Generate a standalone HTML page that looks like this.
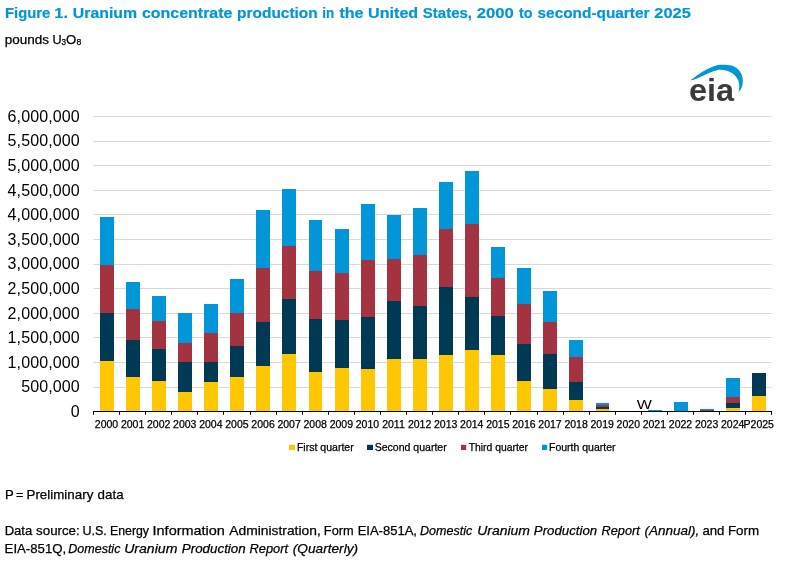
<!DOCTYPE html>
<html lang="en"><head><meta charset="utf-8"><title>Figure 1. Uranium concentrate production</title>
<style>
html,body{margin:0;padding:0;background:#fff}
body{width:803px;height:563px;overflow:hidden;position:relative;font-family:"Liberation Sans",sans-serif}
svg{position:absolute;left:0;top:0;display:block}
text{font-family:"Liberation Sans",sans-serif}
</style></head><body>
<svg width="803" height="563" viewBox="0 0 803 563">
<rect width="803" height="563" fill="#fff"/>
<text y="17.7" font-size="15.0" fill="#0096D7" stroke="#0096D7" stroke-width="0.2" font-weight="bold"><tspan x="5.01" textLength="45.30" lengthAdjust="spacingAndGlyphs">Figure</tspan> <tspan x="54.37" textLength="13.66" lengthAdjust="spacingAndGlyphs">1.</tspan> <tspan x="72.85" textLength="64.23" lengthAdjust="spacingAndGlyphs">Uranium</tspan> <tspan x="141.98" textLength="90.47" lengthAdjust="spacingAndGlyphs">concentrate</tspan> <tspan x="237.08" textLength="80.68" lengthAdjust="spacingAndGlyphs">production</tspan> <tspan x="322.16" textLength="11.98" lengthAdjust="spacingAndGlyphs">in</tspan> <tspan x="339.40" textLength="24.04" lengthAdjust="spacingAndGlyphs">the</tspan> <tspan x="368.13" textLength="50.03" lengthAdjust="spacingAndGlyphs">United</tspan> <tspan x="422.87" textLength="49.13" lengthAdjust="spacingAndGlyphs">States,</tspan> <tspan x="476.82" textLength="37.06" lengthAdjust="spacingAndGlyphs">2000</tspan> <tspan x="518.92" textLength="13.54" lengthAdjust="spacingAndGlyphs">to</tspan> <tspan x="537.56" textLength="111.97" lengthAdjust="spacingAndGlyphs">second-quarter</tspan> <tspan x="654.33" textLength="36.42" lengthAdjust="spacingAndGlyphs">2025</tspan></text>
<text y="44.3" font-size="13.2" fill="#000" stroke="#000" stroke-width="0.25"><tspan x="4.83" textLength="44.26" lengthAdjust="spacingAndGlyphs">pounds</tspan> <tspan x="52.52" y="44.3" font-size="13.2" textLength="9.16" lengthAdjust="spacingAndGlyphs">U</tspan><tspan x="61.59" y="45.0" font-size="9.2" textLength="4.57" lengthAdjust="spacingAndGlyphs">3</tspan><tspan x="65.98" y="44.3" font-size="13.2" textLength="10.26" lengthAdjust="spacingAndGlyphs">O</tspan><tspan x="76.42" y="45.0" font-size="9.2" textLength="4.86" lengthAdjust="spacingAndGlyphs">8</tspan></text>
<g stroke="#D9D9D9" stroke-width="1" fill="none">
<line x1="93.5" x2="771.6" y1="387.5" y2="387.5"/>
<line x1="93.5" x2="771.6" y1="362.5" y2="362.5"/>
<line x1="93.5" x2="771.6" y1="337.5" y2="337.5"/>
<line x1="93.5" x2="771.6" y1="313.5" y2="313.5"/>
<line x1="93.5" x2="771.6" y1="288.5" y2="288.5"/>
<line x1="93.5" x2="771.6" y1="264.5" y2="264.5"/>
<line x1="93.5" x2="771.6" y1="239.5" y2="239.5"/>
<line x1="93.5" x2="771.6" y1="214.5" y2="214.5"/>
<line x1="93.5" x2="771.6" y1="190.5" y2="190.5"/>
<line x1="93.5" x2="771.6" y1="165.5" y2="165.5"/>
<line x1="93.5" x2="771.6" y1="141.5" y2="141.5"/>
<line x1="93.5" x2="771.6" y1="116.5" y2="116.5"/>
</g>
<g font-size="16" fill="#000" text-anchor="end" letter-spacing="0.1">
<text x="79.7" y="417.2">0</text>
<text x="79.7" y="392.2">500,000</text>
<text x="79.7" y="368.2">1,000,000</text>
<text x="79.7" y="343.2">1,500,000</text>
<text x="79.7" y="319.2">2,000,000</text>
<text x="79.7" y="294.2">2,500,000</text>
<text x="79.7" y="269.2">3,000,000</text>
<text x="79.7" y="245.2">3,500,000</text>
<text x="79.7" y="220.2">4,000,000</text>
<text x="79.7" y="196.2">4,500,000</text>
<text x="79.7" y="171.2">5,000,000</text>
<text x="79.7" y="146.2">5,500,000</text>
<text x="79.7" y="122.2">6,000,000</text>
</g>
<g shape-rendering="crispEdges">
<rect x="100" y="361" width="14" height="50" fill="#FFC702"/>
<rect x="100" y="313" width="14" height="48" fill="#003953"/>
<rect x="100" y="265" width="14" height="48" fill="#A33340"/>
<rect x="100" y="217" width="14" height="48" fill="#0096D7"/>
<rect x="126" y="377" width="14" height="34" fill="#FFC702"/>
<rect x="126" y="340" width="14" height="37" fill="#003953"/>
<rect x="126" y="309" width="14" height="31" fill="#A33340"/>
<rect x="126" y="282" width="14" height="27" fill="#0096D7"/>
<rect x="152" y="381" width="14" height="30" fill="#FFC702"/>
<rect x="152" y="349" width="14" height="32" fill="#003953"/>
<rect x="152" y="321" width="14" height="28" fill="#A33340"/>
<rect x="152" y="296" width="14" height="25" fill="#0096D7"/>
<rect x="178" y="392" width="14" height="19" fill="#FFC702"/>
<rect x="178" y="362" width="14" height="30" fill="#003953"/>
<rect x="178" y="343" width="14" height="19" fill="#A33340"/>
<rect x="178" y="313" width="14" height="30" fill="#0096D7"/>
<rect x="204" y="382" width="14" height="29" fill="#FFC702"/>
<rect x="204" y="362" width="14" height="20" fill="#003953"/>
<rect x="204" y="333" width="14" height="29" fill="#A33340"/>
<rect x="204" y="304" width="14" height="29" fill="#0096D7"/>
<rect x="230" y="377" width="14" height="34" fill="#FFC702"/>
<rect x="230" y="346" width="14" height="31" fill="#003953"/>
<rect x="230" y="313" width="14" height="33" fill="#A33340"/>
<rect x="230" y="279" width="14" height="34" fill="#0096D7"/>
<rect x="256" y="366" width="14" height="45" fill="#FFC702"/>
<rect x="256" y="322" width="14" height="44" fill="#003953"/>
<rect x="256" y="268" width="14" height="54" fill="#A33340"/>
<rect x="256" y="210" width="14" height="58" fill="#0096D7"/>
<rect x="282" y="354" width="14" height="57" fill="#FFC702"/>
<rect x="282" y="299" width="14" height="55" fill="#003953"/>
<rect x="282" y="246" width="14" height="53" fill="#A33340"/>
<rect x="282" y="189" width="14" height="57" fill="#0096D7"/>
<rect x="309" y="372" width="13" height="39" fill="#FFC702"/>
<rect x="309" y="319" width="13" height="53" fill="#003953"/>
<rect x="309" y="271" width="13" height="48" fill="#A33340"/>
<rect x="309" y="220" width="13" height="51" fill="#0096D7"/>
<rect x="335" y="368" width="14" height="43" fill="#FFC702"/>
<rect x="335" y="320" width="14" height="48" fill="#003953"/>
<rect x="335" y="273" width="14" height="47" fill="#A33340"/>
<rect x="335" y="229" width="14" height="44" fill="#0096D7"/>
<rect x="361" y="369" width="14" height="42" fill="#FFC702"/>
<rect x="361" y="317" width="14" height="52" fill="#003953"/>
<rect x="361" y="260" width="14" height="57" fill="#A33340"/>
<rect x="361" y="204" width="14" height="56" fill="#0096D7"/>
<rect x="387" y="359" width="14" height="52" fill="#FFC702"/>
<rect x="387" y="301" width="14" height="58" fill="#003953"/>
<rect x="387" y="259" width="14" height="42" fill="#A33340"/>
<rect x="387" y="215" width="14" height="44" fill="#0096D7"/>
<rect x="413" y="359" width="14" height="52" fill="#FFC702"/>
<rect x="413" y="306" width="14" height="53" fill="#003953"/>
<rect x="413" y="255" width="14" height="51" fill="#A33340"/>
<rect x="413" y="208" width="14" height="47" fill="#0096D7"/>
<rect x="439" y="355" width="14" height="56" fill="#FFC702"/>
<rect x="439" y="287" width="14" height="68" fill="#003953"/>
<rect x="439" y="229" width="14" height="58" fill="#A33340"/>
<rect x="439" y="182" width="14" height="47" fill="#0096D7"/>
<rect x="465" y="350" width="14" height="61" fill="#FFC702"/>
<rect x="465" y="297" width="14" height="53" fill="#003953"/>
<rect x="465" y="224" width="14" height="73" fill="#A33340"/>
<rect x="465" y="171" width="14" height="53" fill="#0096D7"/>
<rect x="491" y="355" width="14" height="56" fill="#FFC702"/>
<rect x="491" y="316" width="14" height="39" fill="#003953"/>
<rect x="491" y="278" width="14" height="38" fill="#A33340"/>
<rect x="491" y="247" width="14" height="31" fill="#0096D7"/>
<rect x="517" y="381" width="14" height="30" fill="#FFC702"/>
<rect x="517" y="344" width="14" height="37" fill="#003953"/>
<rect x="517" y="304" width="14" height="40" fill="#A33340"/>
<rect x="517" y="268" width="14" height="36" fill="#0096D7"/>
<rect x="543" y="389" width="14" height="22" fill="#FFC702"/>
<rect x="543" y="354" width="14" height="35" fill="#003953"/>
<rect x="543" y="322" width="14" height="32" fill="#A33340"/>
<rect x="543" y="291" width="14" height="31" fill="#0096D7"/>
<rect x="569" y="400" width="14" height="11" fill="#FFC702"/>
<rect x="569" y="382" width="14" height="18" fill="#003953"/>
<rect x="569" y="357" width="14" height="25" fill="#A33340"/>
<rect x="569" y="340" width="14" height="17" fill="#0096D7"/>
<rect x="596" y="409" width="13" height="2" fill="#FFC702"/>
<rect x="596" y="407" width="13" height="2" fill="#003953"/>
<rect x="596" y="405" width="13" height="2" fill="#A33340"/>
<rect x="596" y="403" width="13" height="2" fill="#0096D7"/>
<rect x="648" y="410" width="14" height="1" fill="#0096D7"/>
<rect x="674" y="402" width="14" height="9" fill="#0096D7"/>
<rect x="700" y="410" width="14" height="1" fill="#A33340"/>
<rect x="700" y="409" width="14" height="1" fill="#0096D7"/>
<rect x="726" y="408" width="14" height="3" fill="#FFC702"/>
<rect x="726" y="403" width="14" height="5" fill="#003953"/>
<rect x="726" y="397" width="14" height="6" fill="#A33340"/>
<rect x="726" y="378" width="14" height="19" fill="#0096D7"/>
<rect x="752" y="396" width="14" height="15" fill="#FFC702"/>
<rect x="752" y="373" width="14" height="23" fill="#003953"/>
</g>
<g stroke="#000" stroke-width="1" fill="none"><line x1="93" x2="772" y1="411.5" y2="411.5" stroke-width="1.15"/>
<line x1="93.5" x2="93.5" y1="411.5" y2="414.8"/>
<line x1="119.5" x2="119.5" y1="411.5" y2="414.8"/>
<line x1="145.5" x2="145.5" y1="411.5" y2="414.8"/>
<line x1="171.5" x2="171.5" y1="411.5" y2="414.8"/>
<line x1="197.5" x2="197.5" y1="411.5" y2="414.8"/>
<line x1="223.5" x2="223.5" y1="411.5" y2="414.8"/>
<line x1="250.5" x2="250.5" y1="411.5" y2="414.8"/>
<line x1="276.5" x2="276.5" y1="411.5" y2="414.8"/>
<line x1="302.5" x2="302.5" y1="411.5" y2="414.8"/>
<line x1="328.5" x2="328.5" y1="411.5" y2="414.8"/>
<line x1="354.5" x2="354.5" y1="411.5" y2="414.8"/>
<line x1="380.5" x2="380.5" y1="411.5" y2="414.8"/>
<line x1="406.5" x2="406.5" y1="411.5" y2="414.8"/>
<line x1="432.5" x2="432.5" y1="411.5" y2="414.8"/>
<line x1="458.5" x2="458.5" y1="411.5" y2="414.8"/>
<line x1="484.5" x2="484.5" y1="411.5" y2="414.8"/>
<line x1="510.5" x2="510.5" y1="411.5" y2="414.8"/>
<line x1="537.5" x2="537.5" y1="411.5" y2="414.8"/>
<line x1="563.5" x2="563.5" y1="411.5" y2="414.8"/>
<line x1="589.5" x2="589.5" y1="411.5" y2="414.8"/>
<line x1="615.5" x2="615.5" y1="411.5" y2="414.8"/>
<line x1="641.5" x2="641.5" y1="411.5" y2="414.8"/>
<line x1="667.5" x2="667.5" y1="411.5" y2="414.8"/>
<line x1="693.5" x2="693.5" y1="411.5" y2="414.8"/>
<line x1="719.5" x2="719.5" y1="411.5" y2="414.8"/>
<line x1="745.5" x2="745.5" y1="411.5" y2="414.8"/>
<line x1="771.5" x2="771.5" y1="411.5" y2="414.8"/>
</g>
<g font-size="10.5" fill="#000" text-anchor="middle" stroke="#000" stroke-width="0.25">
<text x="106.50" y="427.9">2000</text>
<text x="132.59" y="427.9">2001</text>
<text x="158.68" y="427.9">2002</text>
<text x="184.76" y="427.9">2003</text>
<text x="210.86" y="427.9">2004</text>
<text x="236.94" y="427.9">2005</text>
<text x="263.04" y="427.9">2006</text>
<text x="289.12" y="427.9">2007</text>
<text x="315.21" y="427.9">2008</text>
<text x="341.31" y="427.9">2009</text>
<text x="367.39" y="427.9">2010</text>
<text x="393.49" y="427.9">2011</text>
<text x="419.57" y="427.9">2012</text>
<text x="445.66" y="427.9">2013</text>
<text x="471.75" y="427.9">2014</text>
<text x="497.84" y="427.9">2015</text>
<text x="523.94" y="427.9">2016</text>
<text x="550.02" y="427.9">2017</text>
<text x="576.12" y="427.9">2018</text>
<text x="602.21" y="427.9">2019</text>
<text x="628.30" y="427.9">2020</text>
<text x="654.38" y="427.9">2021</text>
<text x="680.48" y="427.9">2022</text>
<text x="706.57" y="427.9">2023</text>
<text x="732.66" y="427.9">2024</text>
<text x="758.75" y="427.9">P2025</text>
</g>
<text transform="translate(644.4 409) scale(1 0.8)" x="0" y="0" font-size="16" text-anchor="middle">W</text>
<g font-size="10.5" fill="#000" stroke="#000" stroke-width="0.25">
<rect x="289" y="444.8" width="6" height="5.2" fill="#FFC702" stroke="none"/><text x="296.94" y="450.6" textLength="56.74" lengthAdjust="spacingAndGlyphs">First quarter</text>
<rect x="367" y="444.8" width="6" height="5.2" fill="#003953" stroke="none"/><text x="374.72" y="450.6" textLength="72.00" lengthAdjust="spacingAndGlyphs">Second quarter</text>
<rect x="461" y="444.8" width="5.2" height="5.2" fill="#A33340" stroke="none"/><text x="468.67" y="450.6" textLength="59.36" lengthAdjust="spacingAndGlyphs">Third quarter</text>
<rect x="542" y="444.8" width="5.2" height="5.2" fill="#0096D7" stroke="none"/><text x="549.04" y="450.6" textLength="66.43" lengthAdjust="spacingAndGlyphs">Fourth quarter</text>
</g>
<g>
<path d="M689.8 80.6 C690.7 80.0 693.1 78.3 695.2 76.8 C697.3 75.3 700.1 73.2 702.5 71.8 C704.9 70.3 707.3 69.0 709.7 67.9 C712.1 66.8 714.5 65.8 716.9 65.2 C719.3 64.7 721.7 64.7 724.1 64.8 C726.5 64.8 729.2 65.0 731.4 65.6 C733.6 66.2 735.5 67.3 737.1 68.5 C738.7 69.7 739.8 71.2 740.7 72.8 C741.6 74.4 742.3 76.2 742.6 77.9 C742.9 79.6 742.9 81.3 742.7 83.0 C742.5 84.7 742.2 86.5 741.5 88.0 C740.8 89.5 739.1 91.2 738.6 91.8 C738.7 90.9 739.3 88.3 739.3 86.6 C739.3 84.9 739.1 83.1 738.6 81.5 C738.1 79.9 737.4 78.5 736.4 77.2 C735.4 75.9 734.2 74.6 732.8 73.6 C731.3 72.6 729.5 71.6 727.7 71.0 C725.9 70.4 723.8 70.0 722.0 69.9 C720.2 69.8 718.9 69.8 716.9 70.3 C714.9 70.8 712.1 71.8 709.7 72.8 C707.3 73.8 704.9 75.0 702.5 76.1 C700.1 77.2 697.3 78.5 695.2 79.3 C693.1 80.0 690.7 80.4 689.8 80.6 Z" fill="#0096D7"/>
<text x="689.0" y="101.3" font-size="32" font-weight="bold" fill="#3b3b3b" textLength="45.2" lengthAdjust="spacingAndGlyphs">eia</text>
</g>
<text y="499.2" font-size="13.2" fill="#000" stroke="#000" stroke-width="0.25"><tspan x="4.95" textLength="8.52" lengthAdjust="spacingAndGlyphs">P</tspan> <tspan x="15.88" textLength="7.45" lengthAdjust="spacingAndGlyphs">=</tspan> <tspan x="26.50" textLength="66.82" lengthAdjust="spacingAndGlyphs">Preliminary</tspan> <tspan x="97.64" textLength="25.96" lengthAdjust="spacingAndGlyphs">data</tspan></text>
<text y="534.6" font-size="13.2" fill="#000" stroke="#000" stroke-width="0.25"><tspan x="4.63" textLength="27.67" lengthAdjust="spacingAndGlyphs">Data</tspan> <tspan x="36.13" textLength="43.58" lengthAdjust="spacingAndGlyphs">source:</tspan> <tspan x="82.43" textLength="24.41" lengthAdjust="spacingAndGlyphs">U.S.</tspan> <tspan x="109.99" textLength="39.03" lengthAdjust="spacingAndGlyphs">Energy</tspan> <tspan x="152.56" textLength="72.37" lengthAdjust="spacingAndGlyphs">Information</tspan> <tspan x="229.37" textLength="91.37" lengthAdjust="spacingAndGlyphs">Administration,</tspan> <tspan x="323.85" textLength="29.79" lengthAdjust="spacingAndGlyphs">Form</tspan> <tspan x="357.63" textLength="59.34" lengthAdjust="spacingAndGlyphs">EIA-851A,</tspan> <tspan x="420.01" textLength="52.33" lengthAdjust="spacingAndGlyphs" font-style="italic">Domestic</tspan> <tspan x="477.16" textLength="52.79" lengthAdjust="spacingAndGlyphs" font-style="italic">Uranium</tspan> <tspan x="533.89" textLength="63.31" lengthAdjust="spacingAndGlyphs" font-style="italic">Production</tspan> <tspan x="601.61" textLength="38.15" lengthAdjust="spacingAndGlyphs" font-style="italic">Report</tspan> <tspan x="644.57" textLength="54.80" lengthAdjust="spacingAndGlyphs" font-style="italic">(Annual),</tspan> <tspan x="702.44" textLength="22.01" lengthAdjust="spacingAndGlyphs">and</tspan> <tspan x="727.90" textLength="31.18" lengthAdjust="spacingAndGlyphs">Form</tspan></text>
<text y="553.0" font-size="13.2" fill="#000" stroke="#000" stroke-width="0.25"><tspan x="4.62" textLength="61.57" lengthAdjust="spacingAndGlyphs">EIA-851Q,</tspan> <tspan x="68.21" textLength="52.23" lengthAdjust="spacingAndGlyphs" font-style="italic">Domestic</tspan> <tspan x="124.15" textLength="53.31" lengthAdjust="spacingAndGlyphs" font-style="italic">Uranium</tspan> <tspan x="181.79" textLength="63.92" lengthAdjust="spacingAndGlyphs" font-style="italic">Production</tspan> <tspan x="249.50" textLength="38.65" lengthAdjust="spacingAndGlyphs" font-style="italic">Report</tspan> <tspan x="292.76" textLength="65.36" lengthAdjust="spacingAndGlyphs" font-style="italic">(Quarterly)</tspan></text>
</svg>
</body></html>
